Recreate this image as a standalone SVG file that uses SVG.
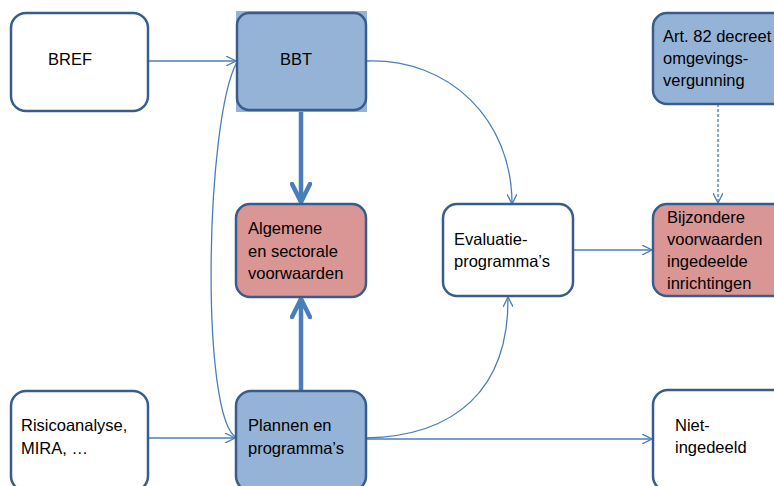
<svg xmlns="http://www.w3.org/2000/svg" width="774" height="486" viewBox="0 0 774 486">
<style>
.box{stroke:#385D8A;stroke-width:2.5}
.w{fill:#FFFFFF}.b{fill:#95B3D7}.r{fill:#D99694}
text{font-family:"Liberation Sans",Arial,sans-serif;font-size:16.5px;fill:#000}
.c{fill:none;stroke:#4A7EBB;stroke-width:1.3}
.t{fill:none;stroke:#4A7EBB;stroke-width:4.5}
</style>
<defs>
<marker id="a" viewBox="0 0 10 10" refX="10" refY="5" markerWidth="10" markerHeight="10" markerUnits="userSpaceOnUse" orient="auto">
<path d="M0,0 L10,5 L0,10" fill="none" stroke="#4A7EBB" stroke-width="1.3"/>
</marker>
<marker id="at" viewBox="0 0 10 10" refX="9" refY="5" markerWidth="5" markerHeight="5" orient="auto">
<path d="M1,1 L9,5 L1,9" fill="none" stroke="#4A7EBB" stroke-width="2" stroke-linecap="round" stroke-linejoin="round"/>
</marker>
</defs>
<rect width="774" height="486" fill="#FFFFFF"/>
<g id="connectors">
<path class="c" d="M148,61 L236,61" marker-end="url(#a)"/>
<path class="c" d="M237,438 C200,420 205,120 237,62"/>
<path class="t" d="M301,111 L301,202" marker-end="url(#at)"/>
<path class="t" d="M301,391 L301,299" marker-end="url(#at)"/>
<path class="c" d="M148,438 L235,438" marker-end="url(#a)"/>
<path class="c" d="M366,61 C450,58 512,120 512,204" marker-end="url(#a)"/>
<path class="c" d="M366,438 C455,436 509,390 508,297" marker-end="url(#a)"/>
<path class="c" d="M366,439 L652,439" marker-end="url(#a)"/>
<path class="c" d="M573,250 L652,250" marker-end="url(#a)"/>
<path class="c" d="M718,104 L718,203" stroke-dasharray="3,2" marker-end="url(#a)"/>
</g>
<g id="bref"><rect class="box w" x="11" y="13" width="137" height="98" rx="15"/><text x="48" y="65">BREF</text></g>
<g id="bbt"><rect x="236" y="11" width="131" height="101" fill="#95B3D7"/><rect class="box b" x="237" y="13" width="129" height="97" rx="12"/><text x="280" y="65">BBT</text></g>
<g id="algemene"><rect class="box r" x="236" y="204" width="130" height="93" rx="14"/><text x="248" y="234">Algemene</text><text x="248" y="257">en sectorale</text><text x="248" y="279">voorwaarden</text></g>
<g id="evaluatie"><rect class="box w" x="443" y="204" width="130" height="92" rx="14"/><text x="454" y="245">Evaluatie-</text><text x="454" y="267">programma’s</text></g>
<g id="art82"><rect class="box b" x="653" y="13" width="135" height="91" rx="14"/><text x="663" y="42">Art. 82 decreet</text><text x="663" y="64">omgevings-</text><text x="663" y="86">vergunning</text></g>
<g id="bijzondere"><rect class="box r" x="653" y="204" width="135" height="92" rx="14"/><text x="667" y="223">Bijzondere</text><text x="667" y="245">voorwaarden</text><text x="667" y="267">ingedeelde</text><text x="667" y="289">inrichtingen</text></g>
<g id="risico"><rect class="box w" x="11" y="391" width="137" height="100" rx="15"/><text x="21" y="431">Risicoanalyse,</text><text x="21" y="454">MIRA, …</text></g>
<g id="plannen"><rect class="box b" x="236" y="391" width="130" height="100" rx="15"/><text x="248" y="431">Plannen en</text><text x="248" y="454">programma’s</text></g>
<g id="niet"><rect class="box w" x="653" y="390" width="135" height="101" rx="15"/><text x="675" y="431">Niet-</text><text x="675" y="453">ingedeeld</text></g>
</svg>
